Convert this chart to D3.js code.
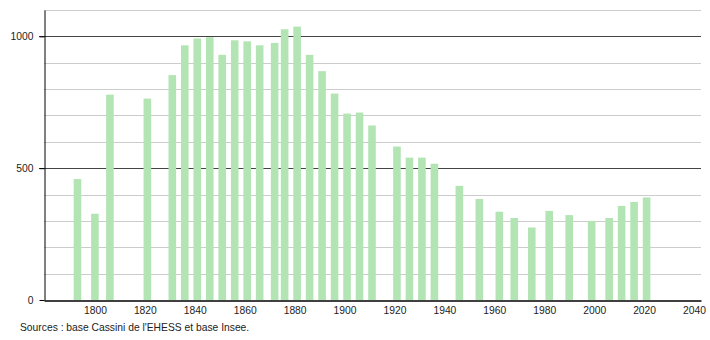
<!DOCTYPE html>
<html>
<head>
<meta charset="utf-8">
<script src="https://cdn.jsdelivr.net/npm/d3@7"></script>
<style>
  body { margin: 0; background: #fff; }
  text { font-family: "Liberation Sans", Arial, sans-serif; fill: #222; }
</style>
</head>
<body>
<div id="vis"></div>
<script>
const FRAME_WIDTH = 710;
const FRAME_HEIGHT = 340;
const MARGINS = {left: 44, right: 9, top: 10, bottom: 40};

// census years and population
const years = [1793, 1800, 1806, 1821, 1831, 1836, 1841, 1846, 1851, 1856,
  1861, 1866, 1872, 1876, 1881, 1886, 1891, 1896, 1901, 1906, 1911,
  1921, 1926, 1931, 1936, 1946, 1954, 1962, 1968, 1975, 1982, 1990,
  1999, 2006, 2011, 2016, 2021];
const population = [459, 327, 779, 764, 853, 966, 992, 997, 930, 985,
  981, 966, 975, 1027, 1037, 930, 868, 783, 707, 711, 662,
  582, 540, 540, 517, 433, 383, 335, 311, 275, 338, 322,
  300, 311, 357, 372, 389];
const xTicks = [1800, 1820, 1840, 1860, 1880, 1900, 1920, 1940, 1960, 1980, 2000, 2020, 2040];
const yMajor = [0, 500, 1000];
const yMinor = [100, 200, 300, 400, 600, 700, 800, 900, 1100];
const source = "Sources : base Cassini de l'EHESS et base Insee.";

const data = years.map((y, i) => ({year: y, pop: population[i]}));
const FONT = "10.3px";

const svg = d3.select("#vis")
  .append("svg")
    .attr("width", FRAME_WIDTH)
    .attr("height", FRAME_HEIGHT);

const X_SCALE = d3.scaleLinear()
  .domain([1779.6, 2042.8])
  .range([MARGINS.left, FRAME_WIDTH - MARGINS.right]);

const Y_SCALE = d3.scaleLinear()
  .domain([0, 1100])
  .range([FRAME_HEIGHT - MARGINS.bottom, MARGINS.top]);

// light grid every 100
svg.selectAll(".minor")
  .data(yMinor)
  .enter()
  .append("line")
    .attr("x1", MARGINS.left)
    .attr("x2", FRAME_WIDTH - MARGINS.right)
    .attr("y1", d => Math.round(Y_SCALE(d)) + 0.5)
    .attr("y2", d => Math.round(Y_SCALE(d)) + 0.5)
    .attr("stroke", "#cccccc")
    .attr("stroke-width", 1);

// darker lines at 500 and 1000
svg.selectAll(".major")
  .data(yMajor.filter(d => d > 0))
  .enter()
  .append("line")
    .attr("x1", MARGINS.left - 5)
    .attr("x2", FRAME_WIDTH - MARGINS.right)
    .attr("y1", d => Math.round(Y_SCALE(d)) + 0.5)
    .attr("y2", d => Math.round(Y_SCALE(d)) + 0.5)
    .attr("stroke", "#444444")
    .attr("stroke-width", 1);

// bars
svg.selectAll(".bar")
  .data(data)
  .enter()
  .append("rect")
    .attr("x", d => X_SCALE(d.year) - 3.8)
    .attr("width", 7.6)
    .attr("y", d => Y_SCALE(d.pop))
    .attr("height", d => Y_SCALE(0) - Y_SCALE(d.pop))
    .attr("fill", "#b3e4b3");

// y axis
svg.append("g")
  .attr("transform", "translate(" + (MARGINS.left + 0.5) + ",0)")
  .call(d3.axisLeft(Y_SCALE).tickValues(yMajor).tickSize(5).tickSizeOuter(0)
    .tickFormat(d3.format("d")))
  .call(g => g.select(".domain").attr("stroke", "#000"))
  .call(g => g.selectAll(".tick line").attr("stroke", "#000"))
  .call(g => g.selectAll(".tick text")
    .attr("x", -11)
    .attr("font-size", FONT)
    .attr("font-family", "Liberation Sans, Arial, sans-serif")
    .attr("fill", "#222"));

// x axis
svg.append("g")
  .attr("transform", "translate(0," + (Y_SCALE(0) + 0.5) + ")")
  .call(d3.axisBottom(X_SCALE).tickValues(xTicks).tickSize(0).tickSizeOuter(0)
    .tickFormat(d3.format("d")))
  .call(g => g.select(".domain").attr("stroke", "#000").attr("stroke-width", 1.5))
  .call(g => g.selectAll(".tick text")
    .attr("y", 6)
    .attr("font-size", FONT)
    .attr("font-family", "Liberation Sans, Arial, sans-serif")
    .attr("fill", "#222"));

// source note
svg.append("text")
  .attr("x", 20)
  .attr("y", 331)
  .attr("font-size", FONT)
  .text(source);
</script>
</body>
</html>
